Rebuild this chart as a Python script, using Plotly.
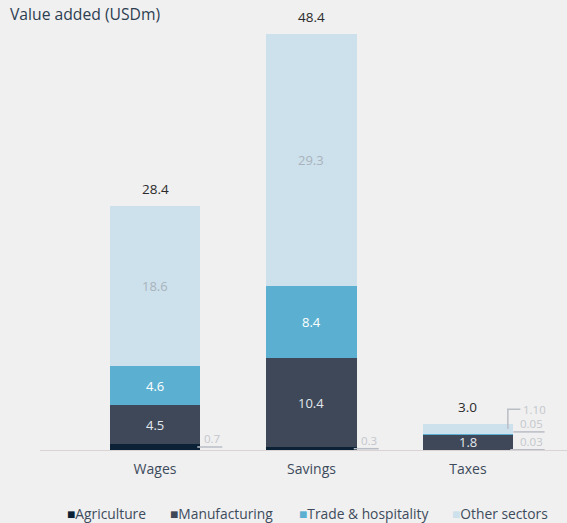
import plotly.graph_objects as go

categories = ["Wages", "Savings", "Taxes"]
series_names = ["Agriculture", "Manufacturing", "Trade & hospitality", "Other sectors"]
agriculture = [0.7, 0.3, 0.03]
manufacturing = [4.5, 10.4, 1.8]
trade = [4.6, 8.4, 0.05]
other = [18.6, 29.3, 1.10]
totals = [28.4, 48.4, 3.0]
agri_labels = ["0.7", "0.3", "0.03"]
trade_small_labels = ["", "", "0.05"]
other_small_labels = ["", "", "1.10"]

colors = ["#0b2236", "#3e4859", "#5bb0d1", "#cde1ec"]
inside_font_colors = ["#ffffff", "#e4e7ec", "#ffffff", "#a9b2bb"]
series = [agriculture, manufacturing, trade, other]

FONT = "Open Sans"
BAR_W = 0.58
LEADER = "#b9bdc5"
SMALL = "#c3c7cc"

fig = go.Figure()
for name, vals, col in zip(series_names, series, colors):
    fig.add_trace(go.Bar(
        x=categories, y=vals, name=name, marker=dict(color=col, line=dict(width=0)),
        width=BAR_W, showlegend=False, hoverinfo="x+y+name",
    ))

annotations = []
shapes = []
for i, cat in enumerate(categories):
    base = 0.0
    for s, vals in enumerate(series):
        v = vals[i]
        mid = base + v / 2
        if v >= 1.5:
            annotations.append(dict(x=cat, y=mid, xref="x", yref="y", text=f"{v:.1f}",
                                    showarrow=False, font=dict(family=FONT, size=13, color=inside_font_colors[s])))
        base += v
    annotations.append(dict(x=cat, y=totals[i], xref="x", yref="y", text=f"{totals[i]:.1f}",
                            showarrow=False, yshift=17, font=dict(family=FONT, size=13.5, color="#2b2b2b")))

# leader lines for small values
for i, cat in enumerate(categories):
    right = i + BAR_W / 2
    a_mid = agriculture[i] / 2
    ext = 0.14 if i < 2 else 0.2
    shapes.append(dict(type="line", xref="x", yref="y", x0=right - 0.02, x1=right + ext,
                       y0=a_mid, y1=a_mid, line=dict(color=LEADER, width=1.5)))
    annotations.append(dict(x=right + ext, y=a_mid, xref="x", yref="y", text=agri_labels[i],
                            xanchor="right", yanchor="bottom", showarrow=False, yshift=0, height=13,
                            font=dict(family=FONT, size=11.5, color=SMALL)))
    if trade_small_labels[i]:
        t_mid = agriculture[i] + manufacturing[i] + trade[i] / 2
        ty = t_mid + 0.25
        shapes.append(dict(type="line", xref="x", yref="y", x0=right, x1=right + ext,
                           y0=ty, y1=ty, line=dict(color=LEADER, width=1.5)))
        annotations.append(dict(x=right + ext, y=ty, xref="x", yref="y", text=trade_small_labels[i],
                                xanchor="right", yanchor="bottom", showarrow=False, yshift=0, height=13,
                                font=dict(family=FONT, size=11.5, color=SMALL)))
    if other_small_labels[i]:
        o_mid = agriculture[i] + manufacturing[i] + trade[i] + other[i] / 2
        vx = i + 0.255
        hx = i + 0.335
        top = o_mid + 2.3
        shapes.append(dict(type="path", xref="x", yref="y",
                           path=f"M {vx},{o_mid} L {vx},{top} L {hx},{top}",
                           line=dict(color=LEADER, width=1.5)))
        annotations.append(dict(x=hx, y=top, xref="x", yref="y", text=other_small_labels[i],
                                xanchor="left", yanchor="middle", showarrow=False, xshift=1, height=13,
                                font=dict(family=FONT, size=11.5, color=SMALL)))

# custom legend
legend_x = [0.0475, 0.2425, 0.488, 0.778]
for name, col, lx in zip(series_names, colors, legend_x):
    annotations.append(dict(
        x=lx, y=-0.147, xref="paper", yref="paper", xanchor="left", yanchor="middle", showarrow=False,
        text=f'<span style="color:{col}">■</span>{name}',
        font=dict(family=FONT, size=13.8, color="#3d4b5c"),
    ))

fig.update_layout(
    barmode="stack",
    width=567, height=523,
    paper_bgcolor="#f0f0f0", plot_bgcolor="#f0f0f0",
    margin=dict(l=40, r=0, t=20, b=73),
    title=dict(text="Value added (USDm)", x=10 / 567, xanchor="left", xref="container",
               y=1 - 15 / 523, yanchor="middle", yref="container",
               font=dict(family=FONT, size=15.7, color="#2c3e50")),
    xaxis=dict(type="category", categoryorder="array", categoryarray=categories,
               range=[-0.735, 2.633], showgrid=False, zeroline=False,
               showline=True, linecolor="#d9d3d3", linewidth=1.2, ticks="",
               ticklabelstandoff=6,
               tickfont=dict(family=FONT, size=14, color="#3d4b5c")),
    yaxis=dict(range=[0, 50], visible=False, showgrid=False, zeroline=False),
    annotations=annotations,
    shapes=shapes,
    bargap=0,
    showlegend=False,
)

fig.write_html("out.html", config={"displayModeBar": False},
               post_script="document.body.style.margin='0';document.body.style.background='#f0f0f0';")
